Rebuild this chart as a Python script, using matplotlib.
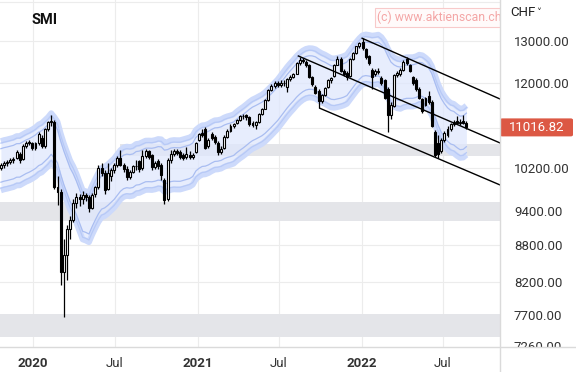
import numpy as np
import pandas as pd
import matplotlib
matplotlib.use("Agg")
import matplotlib.pyplot as plt
import matplotlib.dates as mdates
from matplotlib.ticker import NullLocator
from matplotlib.patches import Rectangle, FancyBboxPatch
from matplotlib.lines import Line2D

plt.rcParams["font.family"] = ["Roboto", "DejaVu Sans"]

# Weekly SMI candles, first week starts 2019-10-21
open_ = [10190, 10250, 10290, 10310, 10350, 10400, 10480, 10380, 10640, 10710,
         10690, 10600, 10690, 10800, 10640, 10980, 11130, 11140, 9840, 9740,
         8360, 8640, 9070, 9240, 9540, 9640, 9600, 9680, 9640, 9450,
         9700, 9830, 10200, 10100, 9800, 10050, 10150, 10250, 10400, 10250,
         10180, 10030, 10120, 10230, 10330, 10200, 10440, 10530, 10450, 10220,
         10330, 10250, 9970, 9600, 10350, 10480, 10530, 10520, 10450, 10420,
         10460, 10420, 10520, 10760, 10900, 10980, 10640, 10880, 10820, 10700,
         10520, 10600, 10820, 10950, 11050, 11100, 11180, 11250, 11270, 11230,
         11120, 11060, 11140, 11300, 11420, 11600, 11830, 11930, 11990, 11950,
         12000, 11900, 12080, 12140, 12210, 12450, 12530, 12480, 12400, 12120,
         11900, 11820, 11580, 11720, 11900, 12050, 12150, 12420, 12560, 12270,
         12230, 12150, 12560, 12700, 12860, 12960, 12800, 12620, 12300, 12200,
         12250, 12100, 12050, 11850, 11280, 11480, 12170, 12200, 12300, 12560,
         12400, 12120, 12060, 11850, 11620, 11500, 11700, 11560, 10930, 10700,
         10540, 10760, 10860, 10980, 11080, 11150, 11120, 11150, 11110]
high = [10290, 10330, 10350, 10390, 10420, 10560, 10520, 10680, 10740, 10760,
        10720, 10720, 10920, 10860, 11010, 11160, 11280, 11170, 10050, 9800,
        8900, 9150, 9300, 9600, 9720, 9700, 9750, 9720, 9680, 9720,
        9860, 10250, 10300, 10150, 10300, 10200, 10290, 10440, 10550, 10300,
        10230, 10160, 10260, 10350, 10360, 10550, 10580, 10560, 10480, 10340,
        10380, 10300, 10000, 10400, 10560, 10580, 10580, 10560, 10500, 10620,
        10530, 10500, 10720, 10900, 10990, 11020, 10800, 10920, 10860, 10740,
        10640, 10850, 10980, 11080, 11120, 11200, 11270, 11300, 11310, 11260,
        11160, 11160, 11320, 11440, 11620, 11850, 11960, 12040, 12030, 12050,
        12060, 12100, 12170, 12230, 12470, 12600, 12580, 12520, 12430, 12160,
        11940, 11860, 11750, 11910, 12080, 12140, 12440, 12620, 12600, 12320,
        12260, 12580, 12720, 12880, 12970, 13060, 12830, 12660, 12340, 12320,
        12330, 12150, 12090, 11900, 11560, 12200, 12260, 12330, 12520, 12600,
        12440, 12160, 12100, 11900, 11660, 11680, 11800, 11600, 10960, 10860,
        10800, 10950, 11050, 11120, 11180, 11250, 11200, 11280, 11160]
low = [10150, 10200, 10240, 10270, 10300, 10380, 10300, 10350, 10600, 10650,
       10560, 10560, 10660, 10600, 10600, 10950, 11050, 9790, 9500, 8150,
       7675, 8230, 8900, 9200, 9450, 9480, 9520, 9580, 9380, 9420,
       9650, 9800, 10050, 9700, 9780, 9950, 10100, 10220, 10230, 10120,
       9970, 9990, 10090, 10150, 10120, 10150, 10400, 10380, 10150, 10180,
       10180, 9970, 9510, 9580, 10300, 10430, 10450, 10380, 10350, 10380,
       10380, 10370, 10500, 10740, 10820, 10580, 10600, 10760, 10680, 10450,
       10480, 10580, 10800, 10920, 11000, 11080, 11150, 11200, 11180, 11050,
       11020, 10990, 11120, 11280, 11400, 11580, 11800, 11880, 11900, 11900,
       11920, 11780, 12040, 12100, 12190, 12420, 12460, 12370, 12100, 11930,
       11740, 11430, 11540, 11700, 11870, 12000, 12130, 12400, 12250, 12150,
       12050, 12120, 12530, 12680, 12830, 12780, 12560, 12420, 11850, 12150,
       12200, 11950, 11620, 10930, 11200, 11450, 12120, 12150, 12270, 12400,
       12240, 11950, 11800, 11620, 11320, 11480, 11520, 11020, 10420, 10400,
       10500, 10720, 10820, 10950, 11050, 11080, 11060, 11090, 10980]
close = [10250, 10290, 10310, 10350, 10380, 10510, 10360, 10640, 10700, 10690,
         10600, 10690, 10880, 10640, 10980, 11130, 11160, 9840, 9740, 8360,
         8640, 9070, 9230, 9540, 9640, 9600, 9680, 9640, 9450, 9680,
         9830, 10200, 10100, 9780, 10100, 10150, 10250, 10400, 10250, 10180,
         10020, 10120, 10230, 10240, 10180, 10440, 10530, 10420, 10220, 10300,
         10230, 10060, 9590, 10350, 10480, 10530, 10500, 10420, 10400, 10470,
         10420, 10460, 10700, 10880, 10850, 10600, 10750, 10800, 10720, 10520,
         10580, 10820, 10950, 11050, 11080, 11180, 11250, 11260, 11240, 11080,
         11060, 11140, 11300, 11420, 11600, 11830, 11930, 12000, 11950, 12000,
         11980, 12080, 12140, 12200, 12450, 12530, 12500, 12400, 12120, 11960,
         11770, 11580, 11720, 11880, 12050, 12110, 12420, 12560, 12280, 12200,
         12130, 12560, 12700, 12860, 12940, 12820, 12590, 12450, 12120, 12280,
         12270, 11980, 11650, 11280, 11500, 12170, 12220, 12300, 12480, 12450,
         12280, 11980, 11850, 11650, 11360, 11650, 11560, 11050, 10460, 10470,
         10760, 10900, 10980, 11080, 11140, 11100, 11130, 11120, 11016.82]

# moving-average envelope settings
ma_weeks = 10
band_outer = 0.047
band_inner = 0.032

# support / resistance zones (price range, start date)
zone_lo = [10433, 9214, 7386]
zone_hi = [10674, 9555, 7716]
zone_start = ["2020-07-12", "2019-10-01", "2019-10-01"]

# trend channel lines (start date/price, end date/price)
channel_dates = [["2022-01-02", "2022-11-05"],
                 ["2021-08-13", "2022-11-05"],
                 ["2021-09-30", "2022-11-05"]]
channel_vals = [[13060, 11630], [12626, 10694], [11426, 9870]]

ytick_vals = [7260, 7700, 8200, 8800, 9400, 10200, 12000, 13000]
grid_vals = [7700, 8200, 8800, 9400, 10200, 11000, 12000, 13000, 14000]
xtick_dates = ["2020-01-01", "2020-07-01", "2021-01-01", "2021-07-01", "2022-01-01", "2022-07-01"]
xtick_labels = ["2020", "Jul", "2021", "Jul", "2022", "Jul"]

o = np.array(open_, dtype=float)
h = np.array(high, dtype=float)
l = np.array(low, dtype=float)
c = np.array(close, dtype=float)
weeks = pd.date_range("2019-10-21", periods=len(c), freq="W-MON")
x = mdates.date2num(weeks)

mid = pd.Series(c).rolling(ma_weeks, min_periods=1).mean().values

fig = plt.figure(figsize=(5.76, 3.72), dpi=100)
W, H = 576.0, 372.0
ax = fig.add_axes([0, 25 / H, 500 / W, 347 / H])
ax.set_yscale("log")
x_left = mdates.date2num(pd.Timestamp("2019-10-19"))
x_right = mdates.date2num(pd.Timestamp("2022-11-04 20:00"))
ax.set_xlim(x_left, x_right)
ax.set_ylim(7244, 14050)

for v in grid_vals:
    ax.axhline(v, color="#ececec", lw=0.8, zorder=0.5)
for d in xtick_dates:
    ax.axvline(mdates.date2num(pd.Timestamp(d)), color="#ececec", lw=0.8, zorder=0.5)

for lo, hi, st in zip(zone_lo, zone_hi, zone_start):
    xs = mdates.date2num(pd.Timestamp(st))
    ax.fill_between([xs, x_right], lo, hi, color="#e4e5e9", lw=0, zorder=1)

# envelope
ax.fill_between(x, mid * (1 - band_outer), mid * (1 + band_outer),
                color="#dfe7fd", alpha=0.75, lw=0, zorder=2)
for k in (1, -1):
    ax.plot(x, mid * (1 + k * band_outer), color="#cddafb", lw=4.2,
            solid_capstyle="butt", zorder=2.5)
    ax.plot(x, mid * (1 + k * (band_outer - 0.004)), color="#b7c9f6", lw=0.9,
            zorder=2.6)
    ax.plot(x, mid * (1 + k * band_inner), color="#a9bdf1", lw=0.9, zorder=2.5)

# candles
ax.vlines(x, l, h, color="black", lw=0.9, zorder=4)
up = c >= o
ax.bar(x[up], (c - o)[up], bottom=o[up], width=4.4, color="white",
       edgecolor="black", lw=0.8, zorder=5)
ax.bar(x[~up], (o - c)[~up], bottom=c[~up], width=4.4, color="black",
       edgecolor="black", lw=0.8, zorder=5)

# channel
for ds, vs in zip(channel_dates, channel_vals):
    ax.plot(mdates.date2num(pd.to_datetime(ds)), vs, color="black", lw=1.0, zorder=6)

# axes styling
for s in ax.spines.values():
    s.set_visible(False)
ax.yaxis.tick_right()
ax.set_yticks(ytick_vals)
ax.set_yticklabels(["%.2f" % v for v in ytick_vals])
ax.yaxis.set_minor_locator(NullLocator())
ax.tick_params(axis="y", length=0, pad=10, labelsize=9.5, labelcolor="#333333")
ax.set_xticks(mdates.date2num(pd.to_datetime(xtick_dates)))
ax.set_xticklabels(xtick_labels)
ax.tick_params(axis="x", length=0, pad=7, labelsize=9.5, labelcolor="#333333")
for lbl in ax.get_xticklabels():
    if lbl.get_text().isdigit():
        lbl.set_fontweight("bold")

# watermark
ax.text(377 / 500, 1 - 17.5 / 347, "(c) www.aktienscan.ch", transform=ax.transAxes,
        fontsize=8.8, color="#f4a6a6", va="center", ha="left", clip_on=True, zorder=7,
        bbox=dict(boxstyle="square,pad=0.2", fc="#fffafa", ec="#f8caca", lw=0.8))

fig.text(32 / W, 1 - 20 / H, "SMI", fontsize=10.5, fontweight="bold", va="center",
         color="#111111")
fig.text(510 / W, 1 - 12 / H, "CHF", fontsize=9.5, va="center", color="#222222")
fig.text(536 / W, 1 - 12.5 / H, "\u02c5", fontsize=7, va="center", color="#222222",
         family=["DejaVu Sans"])

# last price tag
y_disp = ax.transData.transform((x[-1], c[-1]))[1]
y_fig = y_disp / fig.bbox.height
fig.add_artist(FancyBboxPatch((500 / W, y_fig - 9 / H), 73 / W, 18 / H,
                              boxstyle="round,pad=0,rounding_size=0.004",
                              transform=fig.transFigure, fc="#dc5844", ec="none", zorder=5))
fig.text(536.5 / W, y_fig, "%.2f" % c[-1], fontsize=9.5, color="white",
         ha="center", va="center", zorder=6)

# mask the cut-off bottom label, draw frame lines
fig.add_artist(Rectangle((500.5 / W, 0), 76 / W, 24.5 / H, transform=fig.transFigure,
                         fc="white", ec="none", zorder=5))
fig.add_artist(Line2D([0, 1], [25 / H, 25 / H], transform=fig.transFigure,
                      color="#dadada", lw=1.0, zorder=6))
fig.add_artist(Line2D([500 / W, 500 / W], [0, 1], transform=fig.transFigure,
                      color="#dadada", lw=1.0, zorder=6))

fig.savefig("out.png", dpi=100)
